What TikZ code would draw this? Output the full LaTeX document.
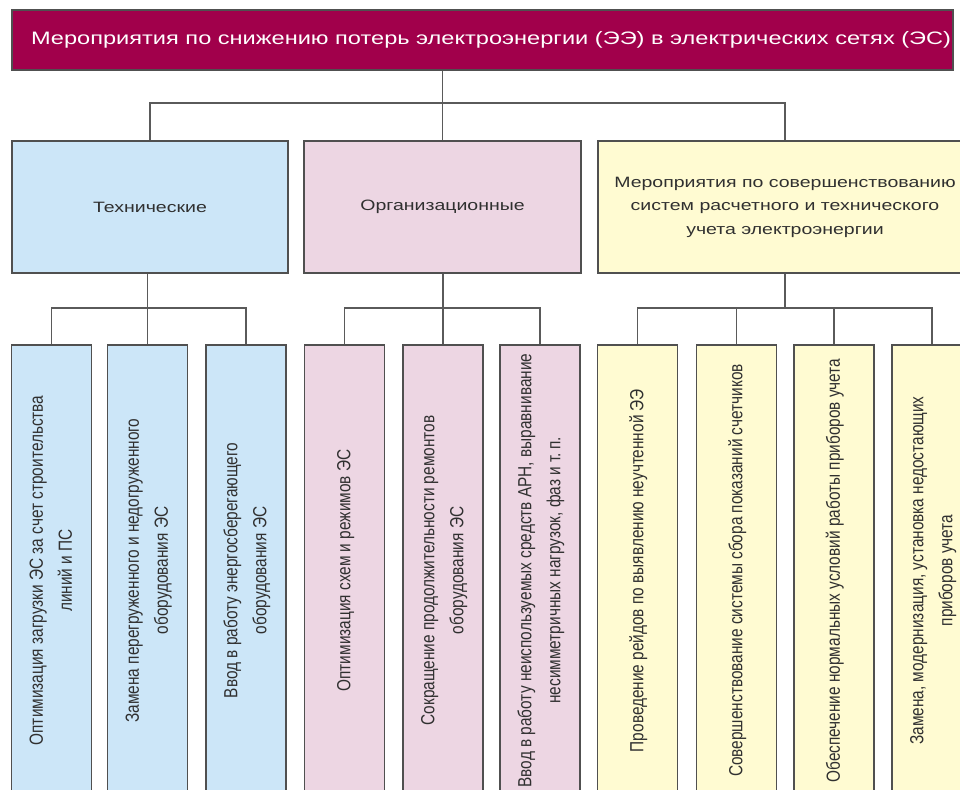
\documentclass[tikz,border=0pt]{standalone}
\usepackage{fontspec}
\usepackage{graphicx}
\setmainfont{Liberation Sans}
\newfontfamily\titlefont[FakeStretch=1.31]{Liberation Sans}
\newfontfamily\widefont[FakeStretch=1.3]{Liberation Sans}
\newfontfamily\narrowfont[FakeStretch=0.81]{Liberation Sans}
\usetikzlibrary{positioning}
\definecolor{titlered}{HTML}{A1004B}
\definecolor{techblue}{HTML}{CCE6F8}
\definecolor{orgpink}{HTML}{EDD6E3}
\definecolor{meteryellow}{HTML}{FFFBD2}
\definecolor{boxline}{HTML}{505050}
\definecolor{linkgray}{HTML}{5A5A5A}
\definecolor{textgray}{HTML}{303030}
% rotated text for the tall boxes
\newcommand{\uptext}[1]{\rotatebox{90}{\begin{tabular}{@{}c@{}}#1\end{tabular}}}

\begin{document}
\begin{tikzpicture}[x=1pt, y=-1pt]
      % Node style
      \tikzset{
        box/.style={draw=boxline, line width=1.2pt, rectangle, inner sep=0pt, text=textgray},
        titlebox/.style={box, fill=titlered, text=white, minimum width=941pt, minimum height=60pt,
          font=\titlefont\fontsize{18}{22}\selectfont},
        groupbox/.style={box, minimum height=132pt, align=center,
          font=\widefont\fontsize{15}{23.5}\selectfont},
        itembox/.style={box, minimum width=80pt, minimum height=451pt,
          font=\narrowfont\fontsize{19}{29}\selectfont},
        link/.style={draw=linkgray, line width=1.2pt},
      }
      \useasboundingbox (0,0) rectangle (960,789);
      \clip (0,0) rectangle (960,789);
      \fill[white] (0,0) rectangle (960,789);
      % Nodes
      \node (title) [titlebox] at (482.5,40) {\hspace*{17pt}Мероприятия по снижению потерь электроэнергии (ЭЭ) в электрических сетях (ЭС)};
      \node (tech) [groupbox, fill=techblue, minimum width=276pt] at (150,207) {Технические};
      \node (org) [groupbox, fill=orgpink, minimum width=277pt] at (442.5,207) {Организационные};
      \node (meter) [groupbox, fill=meteryellow, minimum width=374pt] at (785,207) {Мероприятия по совершенствованию\\систем расчетного и технического\\учета электроэнергии};
      \node (tech1) [itembox, fill=techblue] at (51.5,570.5) {\uptext{Оптимизация загрузки ЭС за счет строительства\\линий и ПС}};
      \node (tech2) [itembox, fill=techblue] at (147.5,570.5) {\uptext{Замена перегруженного и недогруженного\\оборудования ЭС}};
      \node (tech3) [itembox, fill=techblue] at (246,570.5) {\uptext{Ввод в работу энергосберегающего\\оборудования ЭС}};
      \node (org1) [itembox, fill=orgpink] at (344.5,570.5) {\uptext{Оптимизация схем и режимов ЭС}};
      \node (org2) [itembox, fill=orgpink] at (443,570.5) {\uptext{Сокращение продолжительности ремонтов\\оборудования ЭС}};
      \node (org3) [itembox, fill=orgpink] at (540,570.5) {\uptext{Ввод в работу неиспользуемых средств АРН, выравнивание\\несимметричных нагрузок, фаз и т.\,п.}};
      \node (meter1) [itembox, fill=meteryellow] at (637.5,570.5) {\uptext{Проведение рейдов по выявлению неучтенной ЭЭ}};
      \node (meter2) [itembox, fill=meteryellow] at (736.5,570.5) {\uptext{Совершенствование системы сбора показаний счетчиков}};
      \node (meter3) [itembox, fill=meteryellow] at (834,570.5) {\uptext{Обеспечение нормальных условий работы приборов учета}};
      \node (meter4) [itembox, fill=meteryellow] at (932,570.5) {\uptext{Замена, модернизация, установка недостающих\\приборов учета}};
      % Bus points
      \coordinate (topbus) at (443,103);
      \coordinate (techbus) at (148,308);
      \coordinate (orgbus) at (443,308);
      \coordinate (meterbus) at (785,308);
      % Lines
      \draw[link] (org.north) -- (org.north |- title.south);
      \draw[link] (tech.north) |- (topbus) -| (meter.north);
      \draw[link] (tech2.north) -- (tech2.north |- tech.south);
      \draw[link] (tech1.north) |- (techbus) -| (tech3.north);
      \draw[link] (org2.north) -- (org2.north |- org.south);
      \draw[link] (org1.north) |- (orgbus) -| (org3.north);
      \draw[link] (meter.south) -- (meterbus);
      \draw[link] (meter1.north) |- (meterbus) -| (meter4.north);
      \draw[link] (meter2.north) -- (meter2.north |- meterbus);
      \draw[link] (meter3.north) -- (meter3.north |- meterbus);
    \end{tikzpicture}
\end{document}
